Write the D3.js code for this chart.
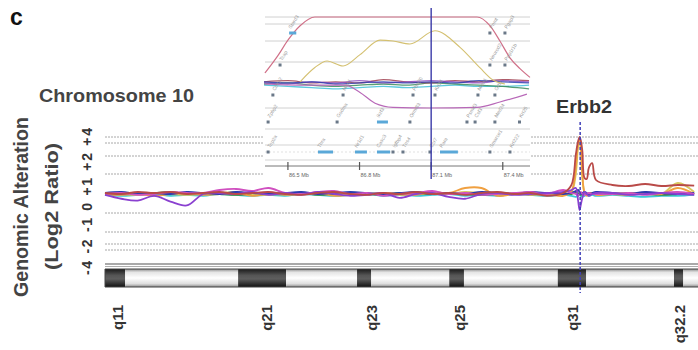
<!doctype html>
<html lang="en">
<head>
  <meta charset="utf-8">
  <script src="https://d3js.org/d3.v7.min.js"></script>
  <style>
    body { margin: 0; background: #fff; }
    text { font-family: "Liberation Sans", Arial, sans-serif; }
  </style>
</head>
<body>
<script>
  // ---- data: chromosome 10 profiles (log2 ratio) at shared positions (Mb)
  var positions = [0,3,6,9,12,15,18,21,24,27,30,33,36,39,42,45,48,51,54,57,60,63,66,69,72,75,78,81,84,
                   85.5,86.3,86.7,87.0,87.2,87.5,87.9,88.3,88.7,89.3,90,
                   93,96,99,102,105,108];

  var cyanProfile = [-0.05,-0.1,-0.05,0,-0.1,-0.05,-0.1,0,-0.05,-0.1,-0.05,-0.1,0,-0.05,-0.1,-0.05,0,-0.1,-0.05,-0.1,-0.05,0,-0.1,-0.05,-0.1,0,-0.05,-0.1,-0.05,
                     -0.1,-0.15,-0.1,-0.05,-0.1,-0.15,-0.1,-0.05,-0.1,-0.05,-0.1,
                     -0.05,-0.1,-0.15,-0.1,-0.1,-0.05];
  var greenProfile = [0,0.05,0,0.05,0.1,0,0.05,0,-0.05,0,0.05,0,0.05,-0.05,0,0.05,0,-0.05,0.05,0,0,0.05,0,-0.05,0,0.05,0,0,0.05,
                      0,0.1,0.05,0,-0.05,0,0.05,0,0,0.05,0,
                      0,0.05,0,-0.05,0,0.05];
  var yellowProfile = [0.05,0,-0.05,0.05,0,-0.05,0,0.05,0.1,0,-0.05,0.05,0,0,0.05,-0.05,0,0.05,-0.05,0,0.05,0,0.1,0.05,0,0.05,0,-0.05,0,
                       0.1,1.0,2.6,3.5,2.6,0.8,0.1,0,0.05,0,0.05,
                       0.05,0,0.05,0,0.55,0.1];
  var orangeProfile = [0,-0.05,0,-0.1,0,0.05,-0.05,0,0.05,-0.1,0,-0.05,0,0.05,-0.1,-0.05,0,0.05,0,-0.05,0.1,0.05,0.3,0.3,-0.1,0,-0.05,0,-0.1,
                       0.15,1.4,2.9,3.7,2.8,1.0,0.05,-0.1,0,0.05,-0.05,
                       0,-0.05,0.05,0,0.3,0];
  var blueProfile = [0.05,0.1,0,0.05,0,0.1,0.05,0,0.1,0.05,0,0.05,0.1,0,0.05,0.1,0.05,0,0.05,0.1,0,0.05,0,0.1,0.05,0,0.1,0.05,0,
                     0.05,0.15,0.2,0.1,0,0.05,0.1,0.05,0,0.05,0.1,
                     0.05,0,0.1,0.05,0,0.05];
  var magentaProfile = [0,0.05,-0.05,0,0.1,0.05,0.05,0.2,0.25,0.15,0.3,0.05,0,0.1,0.15,0,0.05,-0.1,0,0.05,0.15,0,0.05,-0.05,0,0.05,0.1,0,0.2,
                        0.05,0,-0.1,0,0.1,0,-0.05,0,0.05,0,0,
                        0,0.05,-0.05,0.05,0.1,0];
  var purpleProfile = [-0.05,-0.25,-0.35,-0.1,-0.4,-0.6,0,0.05,0,0.1,-0.05,0.05,-0.05,0.1,0,-0.1,-0.05,0.05,-0.2,0,0.05,-0.15,-0.25,0,0.05,-0.05,0,0.05,0.1,
                       0.2,0.3,-0.3,-0.85,-0.6,-0.2,0.1,0,-0.1,0,0.05,
                       0.05,-0.05,0,0.05,0,-0.05];
  var redProfile = [0.05,0,0.1,0.05,0.1,0,0.05,0.1,0,0.05,0.1,0,-0.05,0.05,0.1,0,-0.05,0.05,0,0.1,0,0.05,-0.05,0.05,0.1,0,0.05,-0.1,0.05,
                    0.45,2.1,3.2,4.0,3.5,2.4,0.8,0.75,1.35,1.6,0.7,
                    0.45,0.4,0.5,0.4,0.45,0.42];

  var profiles = [cyanProfile, greenProfile, yellowProfile, orangeProfile, blueProfile, magentaProfile, purpleProfile, redProfile];
  var profileColors = ["#3cc8d8", "#3c8c3c", "#d8c860", "#f0a040", "#2c3cb0", "#d050c0", "#8a40d0", "#b94a48"];

  var gridLevels = [-4, -3, -2, -1, 1, 2, 3, 4];
  var yTickLabels = ["-4", "-2", "-1", "0", "+1", "+2", "+4"];

  // ideogram bands (Mb)
  var bandNames  = ["q11","q12","q21","q22","q23","q24","q25","q26","q31","q32.1","q32.2","q32.3"];
  var bandStart  = [0, 3.7, 24.4, 33.2, 46.2, 48.8, 63.1, 65.8, 83.0, 88.2, 104.3, 106.0];
  var bandEnd    = [3.7, 24.4, 33.2, 46.2, 48.8, 63.1, 65.8, 83.0, 88.2, 104.3, 106.0, 108.7];
  var bandStain  = ["dark","light","dark","light","dark","light","dark","light","dark","light","dark","light"];
  var shownBands = ["q11", "q21", "q23", "q25", "q31", "q32.2"];
  var shownBandMb = [2.75, 30.1, 49.3, 65.4, 86.2, 105.8];

  var erbb2Mb = 87.1;

  // ---- inset (zoom around Erbb2)
  var insetTicks = [86.5, 86.8, 87.1, 87.4];
  var insetGridLevels = [4, 3, 2, 1, -1];

  var pinkTopPos = [86.404, 86.458, 86.500, 86.551, 86.613, 86.969, 87.292, 87.346, 87.388, 87.430, 87.472, 87.514];
  var pinkTopVal = [0.5, 1.3, 2.05, 2.9, 4, 4, 4, 2.9, 2.0, 1.2, 0.7, 0.3];
  var khakiPos = [86.551, 86.613, 86.664, 86.731, 86.802, 86.886, 86.940, 87.011, 87.116, 87.221, 87.305, 87.359, 87.409];
  var khakiVal = [0.1, 0.75, 1.05, 0.82, 1.35, 2.05, 2.0, 1.86, 2.6, 1.7, 0.73, 0.18, 0.0];
  var pinkLowPos = [86.404, 86.551, 86.739, 86.802, 86.865, 86.940, 87.095, 87.292, 87.388, 87.501];
  var pinkLowVal = [0, -0.05, -0.05, -0.35, -0.8, -0.97, -1.0, -0.97, -0.75, -0.42];

  var insetPos = [86.40, 86.50, 86.60, 86.70, 86.80, 86.90, 87.00, 87.10, 87.20, 87.30, 87.40, 87.51];
  var insetBlue   = [0.1, 0.05, 0.1, 0, 0.05, 0.1, 0.05, 0.1, 0.05, 0.15, 0.1, 0.05];
  var insetCyan   = [-0.05, -0.1, -0.15, -0.2, -0.15, -0.1, -0.15, -0.1, -0.05, -0.1, -0.1, -0.05];
  var insetGreen  = [0, 0.05, -0.05, -0.1, -0.05, 0, -0.05, 0.05, 0, -0.05, -0.1, -0.2];
  var insetPurple = [0.05, 0, 0.1, 0.05, 0.15, 0.05, 0.1, 0.15, 0.1, 0.05, 0.15, 0.1];
  var insetRed    = [0.1, 0.15, 0.05, 0.1, 0.05, 0.2, 0.1, 0.05, 0.15, 0.1, 0.2, 0.15];

  var geneNames = ["Stard3","Tcap","Pnmt","Pgap3","Neurod2","Ppp1r1b",
                   "Cdk12","Med1","Fbxl20","Mien1","Grb7","Ikzf3",
                   "Zpbp2","Gsdma","Ormdl3","Psmd3","Csf3","Med24","Thra",
                   "Nr1d1","Casc3","Rara","Top2a","Igfbp4","Tns4","Ccr7","Smarce1","Krt222","Krt24","Krt25"];
  var geneStart = [86.505, 86.467, 87.346, 87.409, 87.346, 87.409,
                   86.437, 86.731, 87.024, 87.296, 87.367, 86.873,
                   86.417, 86.706, 87.011, 87.250, 87.284, 87.367, 86.626,
                   86.781, 86.873, 87.137, 86.417, 86.940, 86.982, 87.095, 87.346, 87.430, 87.116, 87.470];
  var geneEnd   = [86.535, 86.467, 87.346, 87.409, 87.346, 87.409,
                   86.437, 86.731, 87.024, 87.296, 87.367, 86.919,
                   86.417, 86.706, 87.011, 87.250, 87.284, 87.367, 86.689,
                   86.831, 86.928, 87.212, 86.417, 86.940, 86.982, 87.095, 87.346, 87.430, 87.116, 87.470];
  var geneTrack = [0,1,0,0,1,1, 2,2,2,2,2,3, 3,3,3,3,3,3,4, 4,4,4,4,4,4,4,4,4,2,3];

  // ---- layout
  var width = 698, height = 350;
  var svg = d3.select("body").append("svg")
      .attr("width", width)
      .attr("height", height);

  var x = d3.scaleLinear().domain([0, 108.7]).range([105, 698]);
  var y = d3.scaleLinear()
      .domain([-4, -3, -2, -1, 0, 1, 2, 3, 4])
      .range([250, 244, 232, 213, 194, 174, 156, 143, 137]);

  // gradients for the ideogram
  var defs = svg.append("defs");
  var gLight = defs.append("linearGradient").attr("id", "light").attr("x1", 0).attr("y1", 0).attr("x2", 0).attr("y2", 1);
  [["0%", "#8c8c8c"], ["18%", "#e4e4e4"], ["50%", "#ffffff"], ["82%", "#dedede"], ["100%", "#8a8a8a"]].forEach(function(s) {
    gLight.append("stop").attr("offset", s[0]).attr("stop-color", s[1]);
  });
  var gDark = defs.append("linearGradient").attr("id", "dark").attr("x1", 0).attr("y1", 0).attr("x2", 0).attr("y2", 1);
  [["0%", "#1a1a1a"], ["35%", "#555"], ["55%", "#5e5e5e"], ["80%", "#333"], ["100%", "#111"]].forEach(function(s) {
    gDark.append("stop").attr("offset", s[0]).attr("stop-color", s[1]);
  });

  // grid lines
  svg.selectAll("line.grid")
    .data(gridLevels)
    .enter().append("line")
      .attr("class", "grid")
      .attr("x1", x(0)).attr("x2", width)
      .attr("y1", function(d) { return y(d); })
      .attr("y2", function(d) { return y(d); })
      .style("stroke", "#a8a8a8")
      .style("stroke-width", 1)
      .style("stroke-dasharray", "2,1");

  svg.append("line").attr("x1", x(0)).attr("x2", width).attr("y1", 264).attr("y2", 264)
      .style("stroke", "#555").style("stroke-width", 1.2);
  svg.append("line").attr("x1", x(0)).attr("x2", width).attr("y1", 266.5).attr("y2", 266.5)
      .style("stroke", "#999").style("stroke-width", 0.8);

  // profiles
  var profileLine = d3.line()
      .x(function(d, i) { return x(positions[i]); })
      .y(function(d) { return y(d); })
      .curve(d3.curveCatmullRom.alpha(0.5));

  svg.selectAll("path.profile")
    .data(profiles)
    .enter().append("path")
      .attr("class", "profile")
      .attr("d", profileLine)
      .style("fill", "none")
      .style("stroke", function(d, i) { return profileColors[i]; })
      .style("stroke-width", 1.8);

  // ideogram
  var bands = bandNames.map(function(n, i) {
    return { name: n, start: bandStart[i], end: bandEnd[i], stain: bandStain[i] };
  });
  svg.selectAll("rect.band")
    .data(bands)
    .enter().append("rect")
      .attr("class", "band")
      .attr("x", function(d) { return x(d.start); })
      .attr("width", function(d) { return x(d.end) - x(d.start); })
      .attr("y", 269).attr("height", 18)
      .style("fill", function(d) { return d.stain === "dark" ? "url(#dark)" : "url(#light)"; });
  svg.append("line").attr("x1", x(0)).attr("x2", width).attr("y1", 269).attr("y2", 269).style("stroke", "#444");
  svg.append("line").attr("x1", x(0)).attr("x2", width).attr("y1", 287).attr("y2", 287).style("stroke", "#444");
  svg.append("line").attr("x1", x(0)).attr("x2", x(0)).attr("y1", 269).attr("y2", 287).style("stroke", "#444");

  svg.selectAll("text.bandlabel")
    .data(shownBands)
    .enter().append("text")
      .attr("class", "bandlabel")
      .attr("transform", function(d, i) { return "translate(" + (x(shownBandMb[i]) + 3) + ",305) rotate(-90)"; })
      .attr("text-anchor", "end")
      .style("font-size", "15px")
      .style("font-weight", "bold")
      .style("fill", "#333")
      .text(function(d) { return d; });

  // ---- inset
  var ix = d3.scaleLinear().domain([86.404, 87.514]).range([265, 530]);
  var iy = d3.scaleLinear().domain([-1, 0, 1, 2, 3, 4]).range([108, 84, 62, 41, 24, 17]);
  var inset = svg.append("g");

  inset.append("rect").attr("x", 263).attr("y", 6).attr("width", 268).attr("height", 174).style("fill", "#fff");

  inset.selectAll("line.igrid")
    .data(insetGridLevels)
    .enter().append("line")
      .attr("x1", 265).attr("x2", 530)
      .attr("y1", function(d) { return iy(d); })
      .attr("y2", function(d) { return iy(d); })
      .style("stroke", "#c4c4c4").style("stroke-width", 0.8);

  [129, 145, 160].forEach(function(ty) {
    inset.append("line").attr("x1", 265).attr("x2", 530).attr("y1", ty).attr("y2", ty)
        .style("stroke", "#c8c8c8").style("stroke-width", 0.8);
  });
  inset.append("line").attr("x1", 265).attr("x2", 530).attr("y1", 152).attr("y2", 152)
      .style("stroke", "#ccc").style("stroke-width", 0.6).style("stroke-dasharray", "2,2");

  var smooth = function(pos) {
    return d3.line()
      .x(function(d, i) { return ix(pos[i]); })
      .y(function(d) { return iy(d); })
      .curve(d3.curveMonotoneX);
  };

  var insetNoise = [insetCyan, insetGreen, insetRed, insetPurple, insetBlue];
  var insetNoiseColors = ["#40c0d8", "#3c8c5c", "#a04050", "#9050c0", "#3040b0"];
  inset.selectAll("path.inoise")
    .data(insetNoise)
    .enter().append("path")
      .attr("d", smooth(insetPos))
      .style("fill", "none")
      .style("stroke", function(d, i) { return insetNoiseColors[i]; })
      .style("stroke-width", 1.3)
      .style("opacity", 0.85);

  inset.append("path").datum(khakiVal).attr("d", smooth(khakiPos))
      .style("fill", "none").style("stroke", "#d4c070").style("stroke-width", 1.1);
  inset.append("path").datum(pinkTopVal).attr("d", smooth(pinkTopPos))
      .style("fill", "none").style("stroke", "#d07088").style("stroke-width", 1.2);
  inset.append("path").datum(pinkLowVal).attr("d", smooth(pinkLowPos))
      .style("fill", "none").style("stroke", "#b868b8").style("stroke-width", 1.2);

  // gene annotation tracks
  var trackY = [33, 65, 95, 122, 152];
  var genes = geneNames.map(function(n, i) {
    return { name: n, start: geneStart[i], end: geneEnd[i], track: geneTrack[i] };
  });
  inset.selectAll("rect.gene")
    .data(genes)
    .enter().append("rect")
      .attr("x", function(d) { return d.end > d.start ? ix(d.start) : ix(d.start) - 1.5; })
      .attr("width", function(d) { return d.end > d.start ? ix(d.end) - ix(d.start) : 3; })
      .attr("y", function(d) { return trackY[d.track] - 1.5; })
      .attr("height", 3)
      .style("fill", function(d) { return d.end > d.start ? "#5aa8d8" : "#6a7888"; });
  inset.selectAll("text.gene")
    .data(genes)
    .enter().append("text")
      .attr("transform", function(d) {
        return "translate(" + (ix(d.start) + 2) + "," + (trackY[d.track] - 4) + ") rotate(-58)";
      })
      .style("font-size", "5px")
      .style("fill", "#9a9a9a")
      .text(function(d) { return d.name; });

  // inset axis
  inset.append("line").attr("x1", 265).attr("x2", 530).attr("y1", 166).attr("y2", 166)
      .style("stroke", "#777").style("stroke-width", 1);
  inset.selectAll("line.itick")
    .data(insetTicks)
    .enter().append("line")
      .attr("x1", function(d) { return ix(d); }).attr("x2", function(d) { return ix(d); })
      .attr("y1", 162).attr("y2", 170)
      .style("stroke", "#555").style("stroke-width", 1.2);
  inset.selectAll("text.itick")
    .data(insetTicks)
    .enter().append("text")
      .attr("x", function(d) { return ix(d) + 1; })
      .attr("y", 177)
      .style("font-size", "5.5px")
      .style("fill", "#666")
      .text(function(d) { return d3.format(".1f")(d) + " Mb"; });

  inset.append("line").attr("x1", ix(erbb2Mb)).attr("x2", ix(erbb2Mb)).attr("y1", 8).attr("y2", 179)
      .style("stroke", "#3a3aa8").style("stroke-width", 1.4);

  // Erbb2 marker in the main plot
  svg.append("line").attr("x1", x(erbb2Mb)).attr("x2", x(erbb2Mb)).attr("y1", 122).attr("y2", 293)
      .style("stroke", "#4040b8").style("stroke-width", 1.5).style("stroke-dasharray", "3,2");

  // ---- text
  svg.append("text").attr("x", 10).attr("y", 25).text("c")
      .style("font-size", "23px").style("font-weight", "bold").style("fill", "#111");
  svg.append("text").attr("x", 39).attr("y", 102).text("Chromosome 10")
      .attr("textLength", 155).attr("lengthAdjust", "spacingAndGlyphs")
      .style("font-size", "18px").style("font-weight", "bold").style("fill", "#444");
  svg.append("text").attr("x", 556).attr("y", 113).text("Erbb2")
      .attr("textLength", 56).attr("lengthAdjust", "spacingAndGlyphs")
      .style("font-size", "18px").style("font-weight", "bold").style("fill", "#333");

  svg.append("text").attr("transform", "translate(28,207) rotate(-90)")
      .attr("text-anchor", "middle")
      .attr("textLength", 180).attr("lengthAdjust", "spacingAndGlyphs")
      .style("font-size", "21px").style("font-weight", "bold").style("fill", "#444")
      .text("Genomic Alteration");
  svg.append("text").attr("transform", "translate(58,206.5) rotate(-90)")
      .attr("text-anchor", "middle")
      .attr("textLength", 127).attr("lengthAdjust", "spacingAndGlyphs")
      .style("font-size", "19px").style("font-weight", "bold").style("fill", "#444")
      .text("(Log2 Ratio)");
  svg.append("text").attr("transform", "translate(92,201.5) rotate(-90)")
      .attr("text-anchor", "middle")
      .attr("textLength", 147).attr("lengthAdjust", "spacing")
      .style("font-size", "14px").style("font-weight", "bold").style("fill", "#333")
      .text(yTickLabels.join(" "));
</script>
</body>
</html>
